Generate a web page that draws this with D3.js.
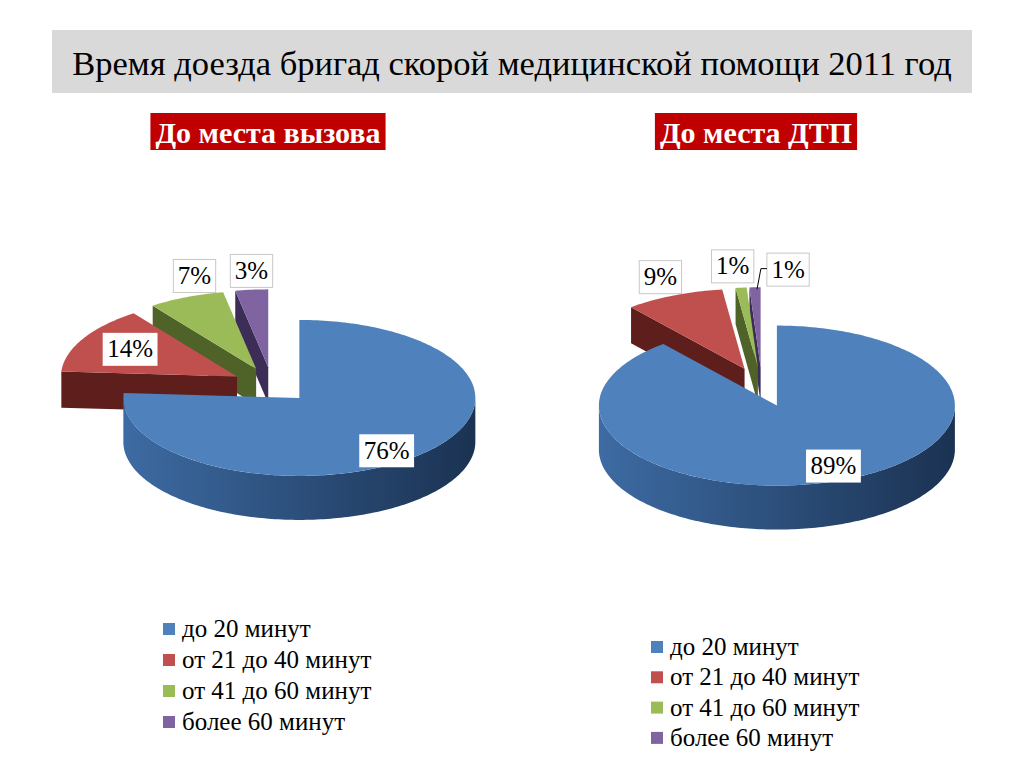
<!DOCTYPE html>
<html>
<head>
<meta charset="utf-8">
<script src="https://cdn.jsdelivr.net/npm/d3@7"></script>
<style>
body { margin: 0; background: #fff; }
svg { display: block; }
text { font-family: "Liberation Serif", "Times New Roman", "DejaVu Serif", serif; }
</style>
</head>
<body>
<svg id="chart" width="1024" height="768"></svg>
<script>
/* chart data */
var categories = ['до 20 минут', 'от 21 до 40 минут', 'от 41 до 60 минут', 'более 60 минут']
var callValues = [76, 14, 7, 3]
var crashValues = [89, 9, 1, 1]
var titleText = 'Время доезда бригад скорой медицинской помощи 2011 год'
var chartTitles = ['До места вызова', 'До места ДТП']

var topColors = ['#4f81bd', '#c0504d', '#9bbb59', '#8064a2']
var cutColors = ['#2f5583', '#5e1e1c', '#4f6228', '#3b2d55']
var wallStops = [['#3d6ba3', '#1b3252'], ['#6a2422', '#4a1514'], ['#566b2b', '#3e4e1f'], ['#42335a', '#2e2340']]

var svg = d3.select('#chart')
var defs = svg.append('defs')

wallStops.forEach(function(stops, i) {
	var g = defs.append('linearGradient').attr('id', 'wall' + i)
		.attr('x1', 0).attr('x2', 1).attr('y1', 0).attr('y2', 0)
	g.append('stop').attr('offset', '0%').attr('stop-color', stops[0])
	g.append('stop').attr('offset', '100%').attr('stop-color', stops[1])
})

/* Title band */
svg.append('rect').attr('x', 52).attr('y', 30).attr('width', 920).attr('height', 63).attr('fill', '#d9d9d9')
svg.append('text').attr('x', 512).attr('y', 75).attr('text-anchor', 'middle')
	.attr('font-size', 34.5).attr('fill', '#000')
	.text(titleText)

/* Layout of the two pies */
var charts = [
	{ values: callValues, title: chartTitles[0], cx: 272, cy: 385, rx: 176, ry: 78, depth: 44, explode: 0.227,
	  titleX: 268, legendX: 163, legendY: 629, legendStep: 31,
	  nudge: [7, 1, 7, 1], labelR: [0.84, 0.70, 1.24, 1.24], leader: [false, false, false, false] },
	{ values: crashValues, title: chartTitles[1], cx: 762, cy: 387, rx: 178, ry: 80, depth: 44, explode: 0.247,
	  titleX: 756, legendX: 651, legendY: 647, legendStep: 30.3,
	  nudge: [-3, 1, -1, 9], labelR: [0.82, 1.24, 1.27, 1.23], leader: [false, false, false, true] }
]

var pie = d3.pie().sort(null).startAngle(0).endAngle(2 * Math.PI)
var line = d3.line()

charts.forEach(drawChart)

/**
 * Draws one exploded 3D pie with its heading, labels and legend
 */
function drawChart(chart) {
	var g = svg.append('g')
	var x = d3.scaleLinear().domain([-1, 1]).range([chart.cx - chart.rx, chart.cx + chart.rx])
	var y = d3.scaleLinear().domain([-1, 1]).range([chart.cy - chart.ry, chart.cy + chart.ry])

	var slices = pie(chart.values).map(function(d, i) {
		var mid = (d.startAngle + d.endAngle) / 2
		return { i: i, d: d, mid: mid,
			ux: chart.explode * Math.sin(mid), uy: -chart.explode * Math.cos(mid) }
	})

	function pt(s, a, r, dz) {
		return [x(s.ux + r * Math.sin(a)), y(s.uy - r * Math.cos(a)) + (dz || 0)]
	}
	function arcPts(s, a0, a1, dz) {
		var n = Math.max(2, Math.ceil(Math.abs(a1 - a0) / 0.02))
		return d3.range(n + 1).map(function(k) { return pt(s, a0 + (a1 - a0) * k / n, 1, dz) })
	}

	/* back slices first, front slices last; back slices look a bit thinner */
	var order = slices.slice().sort(function(a, b) { return Math.cos(b.mid) - Math.cos(a.mid) })

	order.forEach(function(s) {
		var a0 = s.d.startAngle, a1 = s.d.endAngle
		var dz = chart.depth * (Math.cos(s.mid) > 0 ? 0.82 : 1)
		var apex = pt(s, 0, 0), apexB = pt(s, 0, 0, dz)

		/* radial cut faces */
		if (Math.sin(a0) < -1e-6) {
			g.append('path').attr('fill', cutColors[s.i])
				.attr('d', line([apex, pt(s, a0, 1), pt(s, a0, 1, dz), apexB]) + 'Z')
		}
		if (Math.sin(a1) > 1e-6) {
			g.append('path').attr('fill', cutColors[s.i])
				.attr('d', line([apex, pt(s, a1, 1), pt(s, a1, 1, dz), apexB]) + 'Z')
		}

		/* outer wall, front half only */
		var w0 = Math.max(a0, Math.PI / 2), w1 = Math.min(a1, 3 * Math.PI / 2)
		if (w0 < w1) {
			var pts = arcPts(s, w0, w1, 0).concat(arcPts(s, w1, w0, dz))
			g.append('path').attr('fill', 'url(#wall' + s.i + ')').attr('d', line(pts) + 'Z')
		}

		/* top face */
		g.append('path').attr('fill', topColors[s.i])
			.attr('d', line([apex].concat(arcPts(s, a0, a1, 0))) + 'Z')
	})

	/* data labels */
	slices.forEach(function(s) {
		var a = s.mid + chart.nudge[s.i] * Math.PI / 180
		var c = pt(s, a, chart.labelR[s.i])
		var outside = chart.labelR[s.i] > 1
		var lg = g.append('g')
		var t = lg.append('text').attr('x', c[0]).attr('y', c[1] + 8).attr('text-anchor', 'middle')
			.attr('font-size', 25).attr('fill', '#000')
			.text(s.d.data + '%')
		var w = t.node().getComputedTextLength() + 9, h = 33
		lg.insert('rect', 'text').attr('x', c[0] - w / 2).attr('y', c[1] - h / 2)
			.attr('width', w).attr('height', h).attr('fill', '#fff')
			.attr('stroke', outside ? '#c8c8c8' : 'none').attr('stroke-width', 1)
		if (chart.leader[s.i]) {
			var end = pt(s, s.mid, 1)
			g.append('path').attr('fill', 'none').attr('stroke', '#000').attr('stroke-width', 1)
				.attr('d', line([[c[0] - w / 2, c[1] - 1], [c[0] - w / 2 - 6, c[1] - 1], [end[0] + 2, end[1] + 2]]))
		}
	})

	/* heading */
	var hg = svg.append('g')
	var ht = hg.append('text').attr('x', chart.titleX).attr('y', 143).attr('text-anchor', 'middle')
		.attr('font-size', 30).attr('font-weight', 'bold')
		.attr('fill', '#fff').text(chart.title)
	var hw = ht.node().getComputedTextLength() + 10
	hg.insert('rect', 'text').attr('x', chart.titleX - hw / 2).attr('y', 113)
		.attr('width', hw).attr('height', 37).attr('fill', '#c00000')

	/* legend */
	var rows = svg.append('g').selectAll('g').data(categories).enter().append('g')
		.attr('transform', function(d, i) { return 'translate(' + chart.legendX + ',' + (chart.legendY + i * chart.legendStep) + ')' })
	rows.append('rect').attr('x', 0).attr('y', -6).attr('width', 12).attr('height', 12)
		.attr('fill', function(d, i) { return topColors[i] })
	rows.append('text').attr('x', 19).attr('y', 8)
		.attr('font-size', 25).attr('fill', '#000')
		.text(function(d) { return d })
}
</script>
</body>
</html>
